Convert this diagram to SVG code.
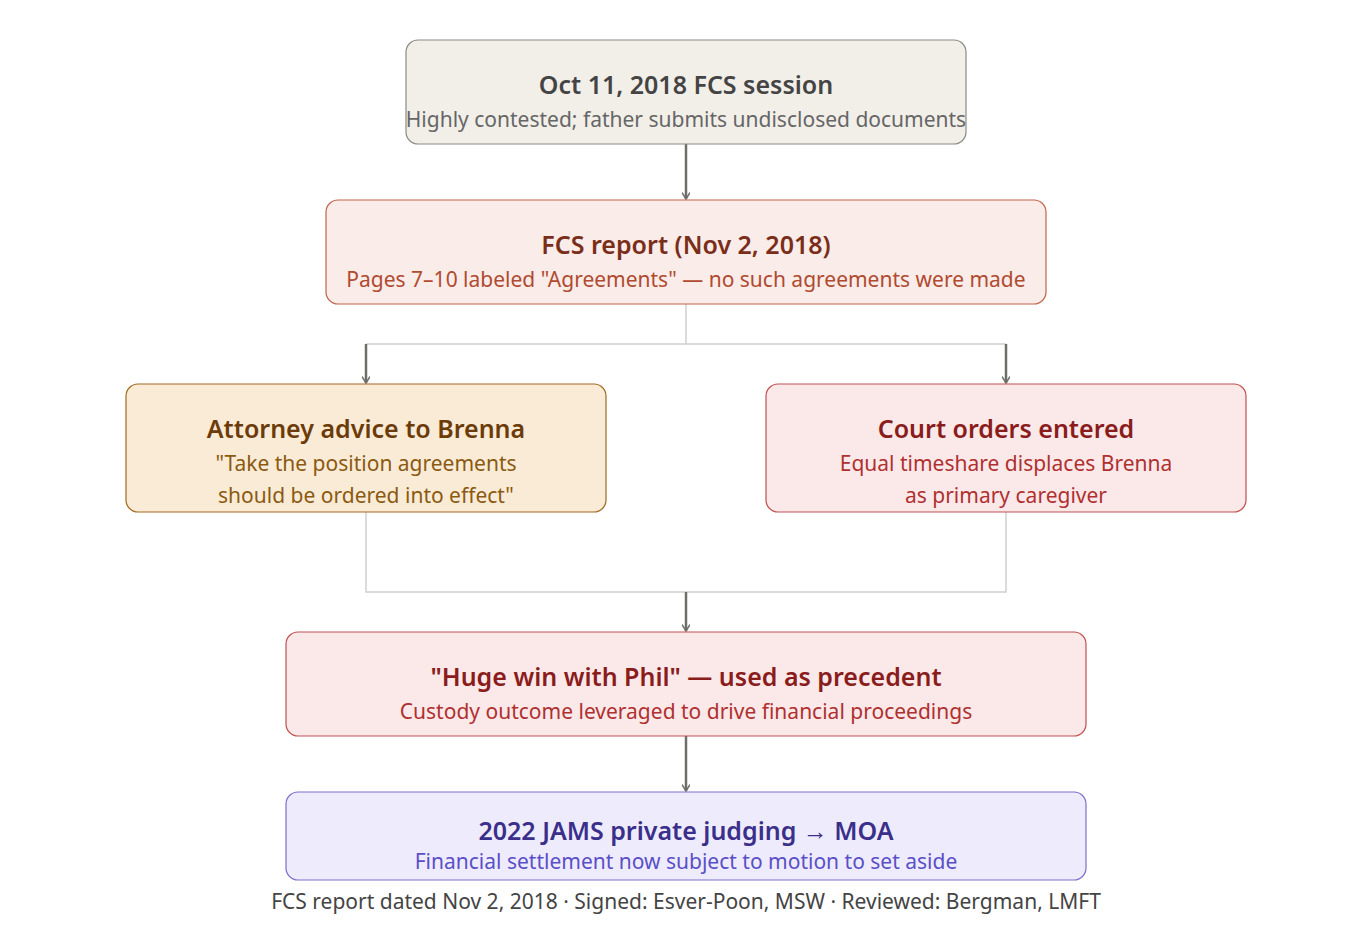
<svg xmlns="http://www.w3.org/2000/svg" width="1372" height="936" viewBox="0 0 1372 936">
<defs>
<marker id="ah" viewBox="0 0 10 10" refX="9" refY="5" markerWidth="8" markerHeight="8" markerUnits="userSpaceOnUse" orient="auto"><path d="M1,0 L9,5 L1,10" fill="none" stroke="#6e6e6a" stroke-width="2"/></marker>
<style>
text{font-family:"Noto Sans","Open Sans",sans-serif;text-anchor:middle}
.t{font-size:25px;font-weight:600}
.s{font-size:21px}
.c{fill:none;stroke:#d0d0d0;stroke-width:1.5}
.a{fill:none;stroke:#6e6e6a;stroke-width:2.5;marker-end:url(#ah)}
</style>
</defs>
<rect width="1372" height="936" fill="#fff"/>
<g id="connectors">
<path class="c" d="M686,304 V344 M366,344 H1006 M366,512 V592 H1006 V512"/>
<path class="a" d="M686,144 V199"/>
<path class="a" d="M366,344 V383"/>
<path class="a" d="M1006,344 V383"/>
<path class="a" d="M686,592 V631"/>
<path class="a" d="M686,736 V791"/>
</g>
<g id="n1"><rect x="406" y="40" width="560" height="104" rx="12" fill="#f2efe9" stroke="#8a8a85" stroke-width="1.2"/>
<text class="t" x="686" y="94" fill="#444">Oct 11, 2018 FCS session</text>
<text class="s" x="686" y="127" fill="#666">Highly contested; father submits undisclosed documents</text></g>
<g id="n2"><rect x="326" y="200" width="720" height="104" rx="12" fill="#faece8" stroke="#c0644c" stroke-width="1.2"/>
<text class="t" x="686" y="254" fill="#7a2e1a">FCS report (Nov 2, 2018)</text>
<text class="s" x="686" y="287" fill="#b04a30">Pages 7–10 labeled "Agreements" — no such agreements were made</text></g>
<g id="n3"><rect x="126" y="384" width="480" height="128" rx="12" fill="#faebd7" stroke="#a06a20" stroke-width="1.2"/>
<text class="t" x="366" y="438" fill="#6b3c0a">Attorney advice to Brenna</text>
<text class="s" x="366" y="471" fill="#8a5a10">"Take the position agreements</text>
<text class="s" x="366" y="503" fill="#8a5a10">should be ordered into effect"</text></g>
<g id="n4"><rect x="766" y="384" width="480" height="128" rx="12" fill="#fbe9e9" stroke="#c05050" stroke-width="1.2"/>
<text class="t" x="1006" y="438" fill="#8a1c1c">Court orders entered</text>
<text class="s" x="1006" y="471" fill="#b03030">Equal timeshare displaces Brenna</text>
<text class="s" x="1006" y="503" fill="#b03030">as primary caregiver</text></g>
<g id="n5"><rect x="286" y="632" width="800" height="104" rx="12" fill="#fbe9e9" stroke="#c05050" stroke-width="1.2"/>
<text class="t" x="686" y="686" fill="#8a1c1c">"Huge win with Phil" — used as precedent</text>
<text class="s" x="686" y="719" fill="#b03030">Custody outcome leveraged to drive financial proceedings</text></g>
<g id="n6"><rect x="286" y="792" width="800" height="88" rx="12" fill="#eeecfc" stroke="#7a70c8" stroke-width="1.2"/>
<text class="t" x="686" y="840" fill="#3a2f8a">2022 JAMS private judging → MOA</text>
<text class="s" x="686" y="869" fill="#5a4fc8">Financial settlement now subject to motion to set aside</text></g>
<text class="s" x="686" y="909" fill="#444">FCS report dated Nov 2, 2018 · Signed: Esver-Poon, MSW · Reviewed: Bergman, LMFT</text>
</svg>
